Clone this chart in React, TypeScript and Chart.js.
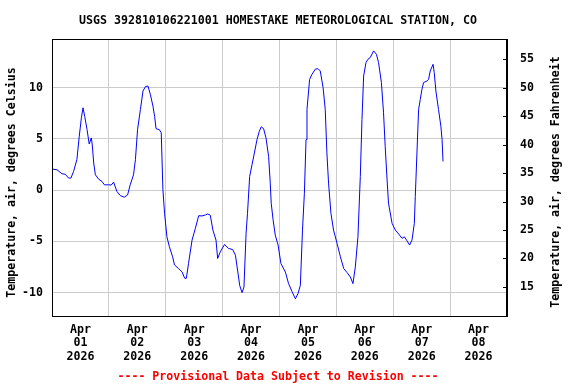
import React, { useEffect, useRef } from "react";
import { Chart, registerables } from "chart.js";

Chart.register(...registerables);

// Hours since 2026-04-01 00:00 (local)
const hours: number[] = [
  0.0, 2.1, 4.2, 5.6, 7.0, 8.0, 9.1, 10.5, 11.5, 12.4, 13.1, 13.8, 14.8, 15.7, 16.6, 17.0, 17.6, 18.3, 19.7,
  21.1, 22.1, 23.9, 25.0, 26.0, 27.4, 28.8, 30.5, 31.9, 33.0, 34.4, 35.2, 36.1, 37.3, 38.4, 39.4, 40.5, 41.5,
  42.6, 43.3, 43.9, 45.3, 46.1, 46.8, 47.5, 48.5, 49.5, 50.9, 51.7, 53.4, 54.9, 56.0, 56.7, 57.6, 59.1, 60.5,
  61.9, 63.3, 64.7, 65.7, 66.8, 67.9, 69.2, 69.9, 71.0, 72.8, 74.5, 76.2, 77.4, 78.3, 79.2, 80.2, 81.0, 81.9,
  82.5, 83.4, 84.4, 85.4, 86.5, 87.5, 88.3, 89.3, 90.3, 91.4, 92.1, 92.5, 93.3, 94.2, 95.4, 96.6, 98.5, 99.8,
  101.3, 102.7, 103.8, 104.8, 105.7, 106.5, 107.2, 107.6, 108.7, 109.7, 111.1, 112.2, 113.2, 114.4, 115.3,
  116.0, 116.7, 117.7, 118.8, 120.3, 121.7, 123.1, 124.5, 125.9, 127.0, 128.0, 129.1, 130.1, 130.8, 131.5,
  132.5, 133.3, 134.3, 135.7, 136.9, 137.8, 139.0, 139.9, 140.6, 141.4, 142.0, 143.5, 144.9, 146.3, 147.7,
  148.7, 149.8, 150.9, 151.9, 152.9, 153.3, 154.0, 154.7, 155.4, 156.1, 156.8, 158.2, 158.9, 159.6, 160.8,
  161.3, 162.0, 163.1, 164.1, 164.6, 165.0,
];

// Air temperature, degrees Celsius
const tempC: number[] = [
  2.06, 1.99, 1.6, 1.55, 1.18, 1.18, 1.83, 2.97, 5.26, 7.06, 8.04, 7.2, 5.9, 4.5, 5.1, 4.4, 2.65, 1.5, 1.07,
  0.85, 0.52, 0.52, 0.5, 0.78, -0.13, -0.53, -0.69, -0.46, 0.52, 1.5, 2.97, 5.9, 7.86, 9.67, 10.1, 10.16, 9.34,
  8.2, 7.2, 6.0, 5.9, 5.6, 0.03, -2.26, -4.55, -5.5, -6.5, -7.3, -7.65, -7.98, -8.6, -8.6, -7.16, -4.87, -3.73,
  -2.49, -2.52, -2.42, -2.32, -2.45, -3.9, -4.87, -6.67, -6.02, -5.3, -5.69, -5.79, -6.34, -7.8, -9.3, -10.0, -9.45, -4.2,
  -2.26, 1.33, 2.48, 3.63, 4.93, 5.75, 6.18, 6.0, 5.1, 3.3, 0.69, -1.27, -2.9, -4.38, -5.36, -7.16, -8.0, -9.1,
  -9.9, -10.6, -10.1, -9.28, -3.9, -0.3, 4.93, 7.87, 10.8, 11.3, 11.8, 11.86, 11.63, 10.0, 7.87,
  3.63, 0.69, -2.26, -3.9, -5.2, -6.5, -7.65, -8.04, -8.47, -9.12, -7.49, -4.55, 1.33, 6.9, 11.14,
  12.45, 12.77, 12.94, 13.59, 13.26, 12.45, 10.5, 7.55, 4.27, 1.0, -1.27, -3.24, -3.9, -4.28, -4.7,
  -4.55, -4.94, -5.36, -4.87, -3.24, -0.63, 3.63, 7.87, 8.85, 9.83, 10.5, 10.65, 10.8, 11.63, 12.28,
  11.47, 9.67, 7.87, 6.24, 4.93, 2.8,
];

const dayLabels: string[] = ["01", "02", "03", "04", "05", "06", "07", "08"];
const monthLabel = "Apr";
const yearLabel = "2026";
const fahrenheitTicks: number[] = [15, 20, 25, 30, 35, 40, 45, 50, 55];

const titleText = "USGS 392810106221001 HOMESTAKE METEOROLOGICAL STATION, CO";
const leftAxisTitle = "Temperature, air, degrees Celsius";
const rightAxisTitle = "Temperature, air, degrees Fahrenheit";
const footerText = "---- Provisional Data Subject to Revision ----";

const cMin = -12.28;
const cMax = 14.75;
const FONT = '"DejaVu Sans Mono", monospace';

export default function App() {
  const ref = useRef<HTMLCanvasElement>(null);

  useEffect(() => {
    if (!ref.current) return;
    const textPlugin = {
      id: "usgsText",
      afterDraw(chart: any) {
        const { ctx, chartArea } = chart;
        ctx.save();
        // frame
        ctx.strokeStyle = "#000";
        ctx.lineWidth = 1;
        ctx.strokeRect(
          Math.round(chartArea.left) + 0.5,
          Math.round(chartArea.top) + 0.5,
          Math.round(chartArea.right - chartArea.left) - 1,
          Math.round(chartArea.bottom - chartArea.top)
        );
        // inside tick marks for the Fahrenheit axis
        const y2 = chart.scales.y2;
        ctx.beginPath();
        for (const t of y2.ticks) {
          const py = Math.round(y2.getPixelForValue(t.value)) + 0.5;
          ctx.moveTo(chartArea.right - 4, py);
          ctx.lineTo(chartArea.right, py);
        }
        ctx.stroke();

        ctx.font = `bold 11.6px ${FONT}`;
        ctx.fillStyle = "#000";
        ctx.textAlign = "center";
        ctx.textBaseline = "alphabetic";
        ctx.fillText(titleText, 278, 23.5);

        ctx.save();
        ctx.translate(15, 182.5);
        ctx.rotate(-Math.PI / 2);
        ctx.fillText(leftAxisTitle, 0, 0);
        ctx.restore();

        ctx.save();
        ctx.translate(559, 182);
        ctx.rotate(-Math.PI / 2);
        ctx.fillText(rightAxisTitle, 0, 0);
        ctx.restore();

        ctx.fillStyle = "#ff0000";
        ctx.fillText(footerText, 278, 379.5);
        ctx.restore();
      },
    };

    const tickFont = { family: FONT, size: 11.6, weight: "bold" as const, lineHeight: 1.16 };

    const chart = new Chart(ref.current, {
      type: "line",
      data: {
        datasets: [
          {
            data: hours.map((h, i) => ({ x: h, y: tempC[i] })),
            borderColor: "#0000ff",
            borderWidth: 1,
            pointRadius: 0,
            tension: 0,
            fill: false,
            yAxisID: "y",
          },
        ],
      },
      options: {
        animation: false,
        responsive: false,
        maintainAspectRatio: false,
        layout: { padding: { top: 39, left: 0, right: 0, bottom: 0 } },
        plugins: { legend: { display: false }, tooltip: { enabled: false }, title: { display: false } },
        scales: {
          x: {
            type: "linear",
            min: 0,
            max: 192,
            position: "bottom",
            afterFit: (s: any) => {
              s.height = 68;
            },
            afterBuildTicks: (s: any) => {
              const t: any[] = [];
              for (let v = 0; v <= 192; v += 12) t.push({ value: v });
              s.ticks = t;
            },
            ticks: {
              autoSkip: false,
              maxRotation: 0,
              minRotation: 0,
              padding: 7,
              color: "#000",
              font: tickFont,
              callback: (v: any) => {
                const n = Number(v);
                if (n % 24 === 12) {
                  const d = Math.floor(n / 24);
                  return [monthLabel, dayLabels[d], yearLabel];
                }
                return "";
              },
            },
            grid: {
              drawTicks: false,
              color: (c: any) => {
                const v = c.tick ? c.tick.value : -1;
                return v % 24 === 0 && v > 0 && v < 192 ? "#cccccc" : "rgba(0,0,0,0)";
              },
              lineWidth: 1,
            },
            border: { display: true, color: "#000", width: 1 },
          },
          y: {
            type: "linear",
            position: "left",
            min: cMin,
            max: cMax,
            afterFit: (s: any) => {
              s.width = 52;
            },
            ticks: {
              stepSize: 5,
              includeBounds: false,
              padding: 9,
              color: "#000",
              font: tickFont,
            },
            grid: { drawTicks: false, color: "#cccccc", lineWidth: 1 },
            border: { display: true, color: "#000", width: 1 },
          },
          y2: {
            type: "linear",
            position: "right",
            min: cMin * 1.8 + 32,
            max: cMax * 1.8 + 32,
            afterFit: (s: any) => {
              s.width = 69;
            },
            afterBuildTicks: (s: any) => {
              s.ticks = fahrenheitTicks.map((v) => ({ value: v }));
            },
            ticks: {
              padding: 13,
              color: "#000",
              font: tickFont,
            },
            grid: { drawTicks: false, drawOnChartArea: false },
            border: { display: true, color: "#000", width: 1 },
          },
        },
      },
      plugins: [textPlugin],
    });
    return () => chart.destroy();
  }, []);

  return (
    <div style={{ position: "fixed", left: 0, top: 0, width: 576, height: 384, background: "#fff" }}>
      <canvas ref={ref} width={576} height={384} style={{ display: "block", width: 576, height: 384 }} />
    </div>
  );
}
